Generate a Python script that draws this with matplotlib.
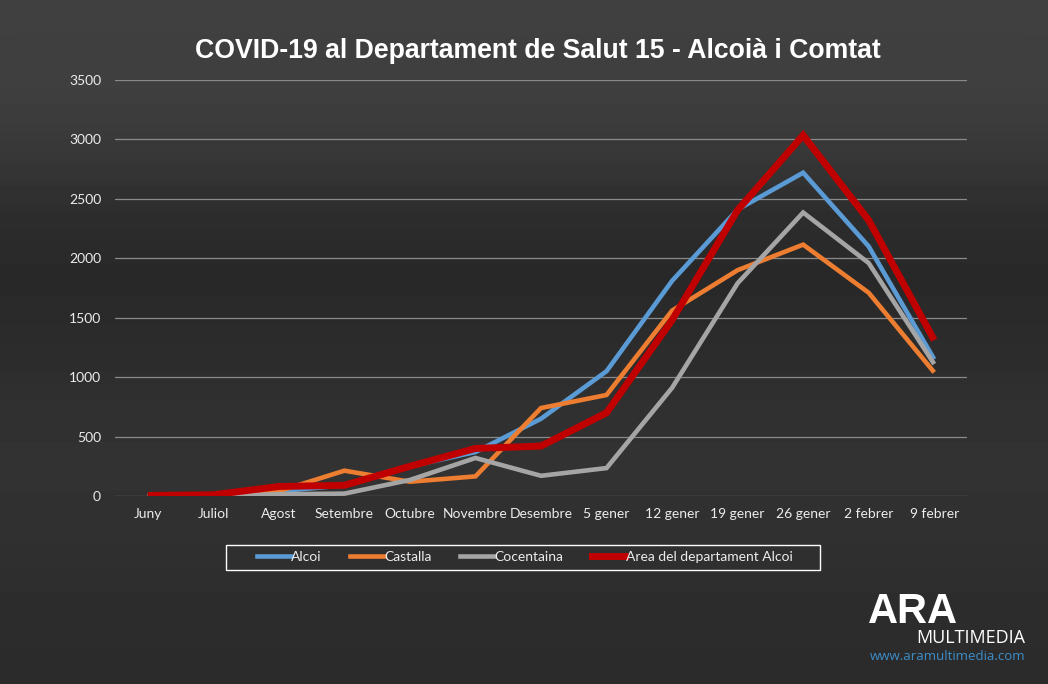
import matplotlib.pyplot as plt
import numpy as np
from matplotlib.lines import Line2D
from matplotlib.patches import Rectangle

# data
weeks = ['Juny', 'Juliol', 'Agost', 'Setembre', 'Octubre', 'Novembre', 'Desembre',
         '5 gener', '12 gener', '19 gener', '26 gener', '2 febrer', '9 febrer']
alcoi = [0, 5, 40, 90, 250, 370, 650, 1050, 1810, 2410, 2720, 2100, 1150]
castalla = [0, 0, 40, 213, 120, 165, 740, 850, 1560, 1900, 2115, 1710, 1040]
cocentaina = [0, 0, 15, 20, 135, 320, 170, 235, 910, 1790, 2385, 1960, 1110]
area = [5, 10, 80, 90, 250, 400, 420, 700, 1480, 2405, 3035, 2320, 1312]
yticks = [0, 500, 1000, 1500, 2000, 2500, 3000, 3500]

series = [('Alcoi', alcoi, '#5b9bd5', 3.3),
          ('Castalla', castalla, '#ed7d31', 3.3),
          ('Cocentaina', cocentaina, '#a5a5a5', 3.3),
          ('Area del departament Alcoi', area, '#c00000', 5.0)]

label_font = 'Lato'

fig = plt.figure(figsize=(10.48, 6.84), dpi=100)

# dark photo-like background
bg = fig.add_axes([0, 0, 1, 1], zorder=-10)
shade = np.array([0.25, 0.25, 0.22, 0.17, 0.16, 0.17, 0.19, 0.20, 0.19, 0.18, 0.17])
grad = np.repeat(shade[:, None], 2, axis=1)
bg.imshow(grad, cmap='gray', vmin=0, vmax=1, aspect='auto', extent=[0, 1, 0, 1],
          interpolation='bicubic')
bg.set_xlim(0, 1)
bg.set_ylim(0, 1)
bg.set_axis_off()

ax = fig.add_axes([115 / 1048, 1 - 496 / 684, 852 / 1048, 416 / 684])
ax.patch.set_alpha(0)
x = np.arange(len(weeks))
for name, vals, col, lw in series:
    ax.plot(x, vals, color=col, lw=lw, label=name, solid_joinstyle='miter',
            solid_capstyle='butt')

ax.set_xlim(-0.5, len(weeks) - 0.5)
ax.set_ylim(0, 3500)
ax.set_yticks(yticks)
ax.set_xticks(x)
ax.set_xticklabels(weeks)
ax.yaxis.grid(True, color='#8a8a8a', lw=0.9)
ax.set_axisbelow(True)
for s in ax.spines.values():
    s.set_visible(False)
ax.tick_params(length=0, colors='#ececec', labelsize=10)
ax.tick_params(axis='y', pad=10)
ax.tick_params(axis='x', pad=9)
for t in ax.get_xticklabels() + ax.get_yticklabels():
    t.set_fontfamily(label_font)

fig.text(538 / 1048, 1 - 51 / 684, 'COVID-19 al Departament de Salut 15 - Alcoià i Comtat',
         color='white', fontsize=19.2, fontweight='bold', family='Liberation Sans',
         ha='center', va='center')

# legend box drawn by hand, legend itself frameless
bg.add_patch(Rectangle((226 / 1048, 1 - 570 / 684), 594 / 1048, 25 / 684,
                       fill=False, edgecolor='white', lw=1.0))
handles = [Line2D([0], [0], color=c, lw=lw) for _, _, c, lw in series]
leg = fig.legend(handles, [s[0] for s in series], ncol=4,
                 loc='center', bbox_to_anchor=(525 / 1048, 1 - 557 / 684),
                 frameon=False, handlelength=2.4, handletextpad=0.05,
                 columnspacing=2.05, prop={'family': label_font, 'size': 10})
for t in leg.get_texts():
    t.set_color('#ececec')

# logo
fig.text(913 / 1048, 1 - 612 / 684, 'ARA', color='white', fontsize=30, fontweight='bold',
         family='Liberation Sans', ha='center', va='center')
fig.text(1025 / 1048, 1 - 638 / 684, 'MULTIMEDIA', color='white', fontsize=13,
         family='Open Sans', ha='right', va='center')
fig.text(1025 / 1048, 1 - 656 / 684, 'www.aramultimedia.com', color='#3d8ec9',
         fontsize=9.5, family='Open Sans', ha='right', va='center')

fig.savefig('out.png', dpi=100, facecolor='#2e2e2e')
